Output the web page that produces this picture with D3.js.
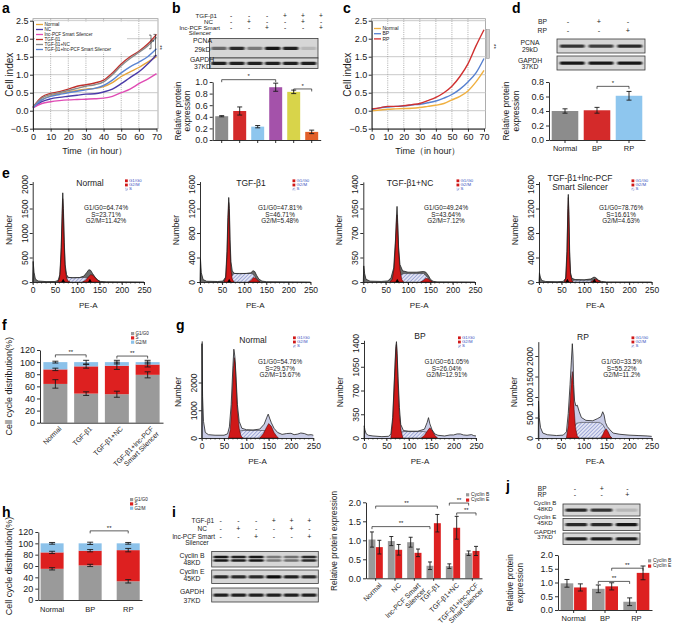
<!DOCTYPE html>
<html><head><meta charset="utf-8">
<script src="https://cdn.jsdelivr.net/npm/d3@7"></script>
<style>body{margin:0;background:#fff}svg{display:block}</style>
</head><body><svg id="chart" width="685" height="628"></svg>
<script>
// ---------------- DATA ----------------
// Panel a: real-time cell index
const aTime = [0,5,10,15,20,25,30,35,40,45,50,55,60,65,70];
const aNames = ["Normal","NC","lnc-PCF Smart Silencer","TGF-β1","TGF-β1+NC","TGF-β1+lnc-PCF Smart Silencer"];
const aNormal = [0.08,0.30,0.42,0.47,0.52,0.56,0.60,0.62,0.67,0.78,0.95,1.08,1.20,1.35,1.50];
const aNC     = [0.08,0.25,0.33,0.37,0.40,0.43,0.46,0.47,0.52,0.60,0.75,0.92,1.08,1.30,1.55];
const aLnc    = [0.08,0.20,0.25,0.28,0.30,0.31,0.32,0.33,0.35,0.40,0.50,0.60,0.75,0.88,1.03];
const aTGF    = [0.10,0.38,0.48,0.53,0.60,0.68,0.72,0.77,0.85,1.05,1.30,1.50,1.65,1.85,2.12];
const aTGFNC  = [0.10,0.35,0.45,0.50,0.56,0.62,0.68,0.72,0.80,1.00,1.25,1.45,1.62,1.80,2.05];
const aTGFLnc = [0.08,0.30,0.40,0.45,0.50,0.54,0.58,0.62,0.70,0.85,1.05,1.22,1.35,1.50,1.72];
// Panel c
const cNames = ["Normal","BP","RP"];
const cNormal = [0.00,0.02,0.04,0.05,0.06,0.07,0.09,0.12,0.15,0.20,0.30,0.40,0.55,0.80,1.12];
const cBP     = [0.03,0.08,0.10,0.12,0.13,0.16,0.18,0.22,0.27,0.35,0.45,0.60,0.80,1.05,1.45];
const cRP     = [0.05,0.08,0.12,0.12,0.14,0.17,0.20,0.28,0.37,0.50,0.68,0.95,1.30,1.80,2.25];
// Panel b
const bTGF = ["-","-","-","+","+","+"];
const bNC  = ["-","+","-","-","+","-"];
const bLnc = ["-","-","+","-","-","+"];
const bPCNA  = [0.55,0.85,0.45,0.95,0.90,0.15];
const bGAPDH = [0.90,0.90,0.90,0.90,0.90,0.90];
const bValues = [0.41,0.50,0.23,0.91,0.83,0.14];
const bErrors = [0.01,0.07,0.02,0.07,0.03,0.03];
// Panel d
const dBP = ["-","+","-"];
const dRP = ["-","-","+"];
const dPCNA  = [0.80,0.75,0.85];
const dGAPDH = [0.95,0.95,0.95];
const dCats = ["Normal","BP","RP"];
const dValues = [0.40,0.41,0.61];
const dErrors = [0.03,0.04,0.06];
// Panel e / g flow histograms: [PE-A, count]
const e1Env = [[0,0],[1,420],[3,200],[6,60],[12,20],[30,8],[50,10],[57,30],[61,150],[64,700],[66,1400],[67.5,1820],[69,1500],[71,800],[73,350],[76,150],[80,95],[90,85],[105,90],[115,120],[121,190],[126,250],[130,240],[134,180],[140,100],[146,40],[152,12],[165,5],[250,0]];
const e1G1 = [[56,0],[60,60],[63,400],[65.5,1100],[67.5,1700],[69,1400],[71,700],[73,280],[76,80],[80,15],[84,0]];
const e1G2 = [[112,0],[118,30],[124,90],[130,150],[135,140],[140,90],[146,35],[152,0]];
const e1S  = [[66,0],[72,60],[78,90],[120,90],[128,60],[134,20],[137,0]];
const e2Env = [[0,0],[1,380],[3,150],[7,40],[15,12],[40,8],[52,15],[58,80],[61,500],[63,1050],[65,1380],[66.5,1200],[68,700],[70,330],[73,180],[78,140],[90,135],[105,140],[115,150],[120,185],[124,170],[128,110],[133,50],[140,15],[150,5],[250,0]];
const e2G1 = [[54,0],[58,60],[61,400],[63,900],[65,1300],[66.5,1100],[68,550],[70,200],[73,50],[77,0]];
const e2G2 = [[110,0],[116,30],[121,75],[126,60],[131,25],[136,0]];
const e2S  = [[64,0],[70,80],[76,140],[118,140],[124,90],[130,30],[134,0]];
const e3Env = [[0,0],[1,230],[3,120],[6,40],[15,12],[40,8],[55,15],[62,60],[68,200],[72,600],[74,900],[75.5,1080],[77,850],[79,500],[82,250],[88,160],[100,140],[120,140],[135,150],[140,140],[146,90],[150,40],[156,10],[165,2],[250,0]];
const e3G1 = [[60,0],[65,40],[69,200],[72,550],[74,850],[75.5,960],[77,800],[79,450],[82,180],[86,40],[90,0]];
const e3G2 = [[128,0],[134,20],[140,55],[145,45],[150,20],[155,0]];
const e3S  = [[72,0],[80,90],[90,120],[135,120],[142,80],[150,20],[154,0]];
const e4Env = [[0,0],[1,150],[3,80],[6,25],[15,8],[40,5],[54,10],[59,60],[62,500],[64,1200],[65,1430],[66.5,1100],[68,500],[70,150],[73,60],[80,40],[100,35],[115,50],[122,80],[126,70],[132,30],[138,10],[150,2],[250,0]];
const e4G1 = [[56,0],[60,80],[62,450],[64,1150],[65,1380],[66.5,1000],[68,420],[70,120],[73,20],[76,0]];
const e4G2 = [[115,0],[120,25],[126,50],[131,30],[137,0]];
const e4S  = [[64,0],[70,25],[80,30],[118,30],[124,20],[130,5],[133,0]];
const g1Env = [[0,0],[0.5,3400],[2,1500],[4,600],[8,200],[15,120],[30,100],[50,100],[58,150],[62,400],[66,1200],[70,2600],[72,3200],[73,3100],[74.5,2900],[77,2200],[80,1200],[84,600],[90,350],[100,300],[115,290],[130,320],[140,500],[146,750],[149,860],[152,720],[156,550],[162,350],[170,200],[180,130],[190,160],[200,170],[207,120],[215,140],[222,180],[230,160],[238,110],[245,120],[250,100]];
const g1G1 = [[60,0],[64,300],[68,1300],[71,2500],[73,2900],[75,2700],[77,2000],[80,1000],[84,350],[88,80],[92,0]];
const g1G2 = [[130,0],[138,150],[145,380],[150,520],[156,420],[162,200],[168,60],[172,0]];
const g1S  = [[68,0],[80,220],[90,270],[140,270],[150,200],[160,90],[168,0]];
const g2Env = [[0,0],[0.5,180],[2,120],[5,60],[10,40],[20,30],[40,20],[55,25],[60,60],[64,300],[68,900],[71,1350],[72.5,1420],[74,1250],[76,900],[79,450],[82,200],[88,110],[100,100],[120,100],[135,130],[141,230],[144,300],[147,210],[152,120],[158,60],[165,40],[180,30],[192,45],[200,45],[208,60],[215,60],[222,45],[230,40],[240,50],[245,35],[250,30]];
const g2G1 = [[60,0],[64,250],[68,850],[71,1300],[72.5,1380],[74,1200],[76,800],[79,350],[83,100],[87,0]];
const g2G2 = [[128,0],[135,40],[142,110],[147,150],[152,110],[158,40],[164,0]];
const g2S  = [[68,0],[78,80],[88,95],[135,95],[145,70],[155,25],[160,0]];
const g3Env = [[0,0],[0.5,900],[2,500],[5,250],[10,120],[20,80],[40,60],[55,70],[62,150],[66,600],[70,1300],[73,1900],[75,2300],[76.5,2000],[78,1300],[80,900],[83,780],[86,800],[90,650],[95,500],[105,430],[120,420],[130,470],[138,520],[142,640],[145,560],[148,380],[152,280],[158,200],[165,120],[180,90],[200,70],[220,60],[240,50],[250,40]];
const g3G1 = [[62,0],[66,300],[70,900],[73,1400],[75,1620],[77,1300],[79,700],[82,250],[86,50],[90,0]];
const g3G2 = [[138,0],[142,80],[146,180],[150,220],[154,150],[158,50],[162,0]];
const g3S  = [[70,0],[76,200],[84,360],[95,380],[135,380],[142,330],[150,180],[158,40],[162,0]];
const eStats = [["G1/G0=64.74%","S=23.71%","G2/M=11.42%"],["G1/G0=47.81%","S=46.71%","G2/M=5.48%"],["G1/G0=49.24%","S=43.64%","G2/M=7.12%"],["G1/G0=78.76%","S=16.61%","G2/M=4.63%"]];
const gStats = [["G1/G0=54.76%","S=29.57%","G2/M=15.67%"],["G1/G0=61.05%","S=26.04%","G2/M=12.91%"],["G1/G0=33.5%","S=55.22%","G2/M=11.2%"]];
// Panel f / h stacked
const cycleKeys = ["G1/G0","S","G2/M"];
const fCats = ["Normal","TGF-β1","TGF-β1+NC","TGF-β1+lnc-PCF|Smart Silencer"];
const fG1 = [64,48,47,79], fS = [24,45,47,17], fG2 = [12,7,6,4];
const fErrG1 = [7,3,5,5], fErrS = [2,3,6,4], fErrG2 = [1.5,3,3,3];
const hCats = ["Normal","BP","RP"];
const hG1 = [55,61,33], hS = [29,26,55], hG2 = [16,13,12];
const hErrG1 = [2,2,3], hErrS = [2,2,3], hErrG2 = [1.5,2,1.5];
// Panel i / j
const iTGF = ["-","-","-","+","+","+"];
const iNC  = ["-","+","-","-","+","-"];
const iLnc = ["-","-","+","-","-","+"];
const iBlotB = [0.95,0.90,0.95,0.45,0.50,0.85];
const iBlotE = [0.85,0.85,0.85,1.00,0.90,0.85];
const iBlotG = [0.90,0.90,0.90,0.90,0.90,0.90];
const iCats = ["Normal","NC","lnc-PCF Smart|Silencer","TGF-β1","TGF-β1+NC","TGF-β1+lnc-PCF|Smart Silencer"];
const iCyclinB = [1.02,0.98,0.95,0.33,0.32,0.66], iCyclinBErr = [0.20,0.12,0.13,0.10,0.06,0.06];
const iCyclinE = [0.82,0.75,0.67,1.45,1.33,0.72], iCyclinEErr = [0.18,0.14,0.10,0.23,0.30,0.12];
const jBP = ["-","+","-"], jRP = ["-","-","+"];
const jBlotB = [0.85,0.80,0.15], jBlotE = [0.85,0.85,0.95], jBlotG = [0.90,0.90,0.90];
const jCats = ["Normal","BP","RP"];
const jCyclinB = [0.97,0.77,0.30], jCyclinBErr = [0.14,0.14,0.14];
const jCyclinE = [0.82,0.86,1.35], jCyclinEErr = [0.13,0.13,0.25];

// ---------------- DRAWING ----------------
const FONT = '"Liberation Sans", Arial, Helvetica, sans-serif';
const svg = d3.select("#chart").attr("font-family", FONT);
const defs = svg.append("defs");
const pat = defs.append("pattern").attr("id","hatch").attr("patternUnits","userSpaceOnUse")
  .attr("width",2.6).attr("height",2.6).attr("patternTransform","rotate(45)");
pat.append("rect").attr("width",2.6).attr("height",2.6).attr("fill","#e2e4f3");
pat.append("line").attr("x1",0).attr("y1",0).attr("x2",0).attr("y2",2.6).attr("stroke","#5566bb").attr("stroke-width",0.9);
defs.append("filter").attr("id","blur").attr("x","-30%").attr("y","-100%").attr("width","160%").attr("height","300%")
  .append("feGaussianBlur").attr("stdDeviation","1.1 0.7");

const INK = "#1a1a1a";
function txt(g,x,y,s,o={}){
  const t=g.append("text").attr("x",x).attr("y",y).text(s).attr("font-size",o.size||8)
    .attr("text-anchor",o.anchor||"start").attr("fill",o.fill||INK);
  if(o.weight) t.attr("font-weight",o.weight);
  if(o.rotate!==undefined) t.attr("transform",`rotate(${o.rotate},${x},${y})`);
  return t;
}
function letter(x,y,c){ txt(svg,x,y,c,{size:14,weight:"bold",fill:"#000"}); }
function styleAxis(ax,fs){
  ax.attr("font-family",FONT).attr("font-size",fs);
  ax.selectAll("path,line").attr("stroke",INK).attr("stroke-width",0.9);
  ax.selectAll("text").attr("fill",INK);
  return ax;
}
function errbar(g,cx,ya,yb,w){
  g.append("path").attr("d",`M${cx},${ya}V${yb}M${cx-w},${ya}H${cx+w}M${cx-w},${yb}H${cx+w}`)
    .attr("stroke",INK).attr("stroke-width",0.9).attr("fill","none");
}
function bracket(g,xa,xb,yv,tick,label,fs){
  g.append("path").attr("d",`M${xa},${yv+tick}V${yv}H${xb}V${yv+tick}`).attr("fill","none").attr("stroke",INK).attr("stroke-width",0.7);
  txt(g,(xa+xb)/2,yv-1.2,label,{size:fs||6,anchor:"middle"});
}
function multiLabel(g,x,y,label,fs,rot){
  const parts=label.split("|");
  const t=g.append("text").attr("font-size",fs).attr("text-anchor","end").attr("fill",INK)
    .attr("transform",`translate(${x},${y}) rotate(${rot})`);
  parts.forEach((p,k)=>t.append("tspan").attr("x",0).attr("dy",k?"1.05em":"0.7em").text(p));
}

// ----- line charts (a, c)
function lineChart(o){
  const g=svg.append("g");
  const x=d3.scaleLinear().domain([0,70]).range([o.x0,o.x1]);
  const y=d3.scaleLinear().domain([-0.5,2.5]).range([o.yb,o.yt]);
  const yv=d3.range(-0.5,2.51,0.5), xv=d3.range(0,71,10);
  g.append("rect").attr("x",o.x0).attr("y",o.yt-2).attr("width",o.x1-o.x0+1.5).attr("height",o.yb-o.yt+2)
    .attr("fill","#fff").attr("stroke","#999").attr("stroke-width",0.8);
  g.selectAll(".hg").data(yv.slice(1)).join("line").attr("x1",o.x0).attr("x2",o.x1+1.5)
    .attr("y1",d=>y(d)).attr("y2",d=>y(d)).attr("stroke","#c9c9c9").attr("stroke-width",1);
  g.selectAll(".vg").data(xv.slice(1,-1)).join("line").attr("x1",d=>x(d)).attr("x2",d=>x(d))
    .attr("y1",o.yt-2).attr("y2",o.yb).attr("stroke","#888").attr("stroke-width",0.7).attr("stroke-dasharray","1,1.2");
  g.append("rect").attr("x",o.leg.x).attr("y",o.leg.y).attr("width",o.leg.w).attr("height",o.leg.h).attr("fill","#fff");
  const line=d3.line().x((d,i)=>x(aTime[i])).y(d=>y(d)).curve(d3.curveMonotoneX);
  o.series.forEach((s,k)=>{
    g.append("path").attr("d",line(s.v)).attr("fill","none").attr("stroke",s.c).attr("stroke-width",1.4);
    const ly=o.leg.y+3+k*o.leg.dy;
    g.append("line").attr("x1",o.leg.x+1).attr("x2",o.leg.x+8).attr("y1",ly).attr("y2",ly).attr("stroke",s.c).attr("stroke-width",1.3);
    txt(g,o.leg.x+9.5,ly+1.6,s.n,{size:o.leg.fs});
  });
  styleAxis(g.append("g").attr("transform",`translate(${o.x0},0)`)
    .call(d3.axisLeft(y).tickValues(yv).tickFormat(d3.format(".1f")).tickSize(3).tickSizeOuter(0).tickPadding(1.5)),9);
  styleAxis(g.append("g").attr("transform",`translate(0,${o.yb})`)
    .call(d3.axisBottom(x).tickValues(xv).tickSize(3).tickSizeOuter(0).tickPadding(2)),9);
  txt(g,o.ytx,(o.yt+o.yb)/2,"Cell index",{size:10,anchor:"middle",rotate:-90});
  txt(g,(o.x0+o.x1)/2,153.5,"Time（in hour）",{size:9,anchor:"middle"});
  return {g,x,y};
}
letter(2,13,"a");
const A=lineChart({x0:33,x1:156.5,yb:128.7,yt:20.7,ytx:13,
  leg:{x:35,y:21.5,w:92,h:31,dy:5,fs:4.6},
  series:[{n:aNames[0],v:aNormal,c:"#e6a53a"},{n:aNames[1],v:aNC,c:"#4a3aa8"},{n:aNames[2],v:aLnc,c:"#e04cb4"},
          {n:aNames[3],v:aTGF,c:"#c0302c"},{n:aNames[4],v:aTGFNC,c:"#8a8a8a"},{n:aNames[5],v:aTGFLnc,c:"#5a84d2"}]});
A.g.append("path").attr("d",`M149,${A.y(2.1)}H151V${A.y(1.72)}H149`).attr("fill","none").attr("stroke",INK).attr("stroke-width",0.6);
txt(A.g,152,A.y(1.92)+2,"*",{size:6});
A.g.append("path").attr("d",`M153.5,${A.y(2.12)}H155.5V${A.y(1.52)}H153.5`).attr("fill","none").attr("stroke",INK).attr("stroke-width",0.6);
txt(A.g,157.5,A.y(1.82),"**",{size:6,rotate:90});

letter(343,13,"c");
const C=lineChart({x0:371.7,x1:484,yb:128.7,yt:20.7,ytx:351,
  leg:{x:373,y:25.5,w:28,h:16,dy:5.2,fs:5},
  series:[{n:cNames[0],v:cNormal,c:"#f0b040"},{n:cNames[1],v:cBP,c:"#5680d0"},{n:cNames[2],v:cRP,c:"#d03030"}]});
C.g.append("rect").attr("x",486.5).attr("y",C.y(2.25)).attr("width",3).attr("height",C.y(1.45)-C.y(2.25))
  .attr("fill","#cfcfcf").attr("stroke","#888").attr("stroke-width",0.5);
txt(C.g,492,C.y(1.85),"**",{size:6,rotate:90});

// ----- blots & headers
function blot(x0,x1,y0,y1,vals,double){
  const g=svg.append("g");
  g.append("rect").attr("x",x0).attr("y",y0).attr("width",x1-x0).attr("height",y1-y0)
    .attr("fill","#d6d6d6").attr("stroke","#3a3a3a").attr("stroke-width",0.8);
  const xb=d3.scaleBand().domain(d3.range(vals.length)).range([x0,x1]).paddingInner(0.14).paddingOuter(0.1);
  const ym=(y0+y1)/2;
  const offs=double?[-2,1.6]:[0];
  offs.forEach(off=>{
    g.selectAll(null).data(vals).join("rect").attr("x",(d,i)=>xb(i)).attr("y",ym+off-1.6)
      .attr("width",xb.bandwidth()).attr("height",double?2.6:3.4).attr("rx",1.3)
      .attr("fill","#111").attr("opacity",d=>d).attr("filter","url(#blur)");
  });
}
function header(rows,cols,fs){
  const g=svg.append("g");
  rows.forEach(r=>{
    if(r.label) txt(g,r.lx,r.y,r.label,{size:fs,anchor:r.anchor||"end"});
    if(r.signs) g.selectAll(null).data(r.signs).join("text").attr("x",(d,i)=>cols(i)).attr("y",r.y)
      .attr("text-anchor","middle").attr("font-size",fs+0.5).attr("fill",INK).text(d=>d==="-"?"-":"+");
  });
}
// ----- simple bar charts (b, d)
function barChart(o){
  const g=svg.append("g");
  const x=d3.scaleBand().domain(d3.range(o.vals.length)).range([o.x0,o.x1]).paddingInner(o.pi).paddingOuter(o.po);
  const y=d3.scaleLinear().domain([0,o.max]).range([o.yb,o.yt]);
  g.selectAll(null).data(o.vals).join("rect").attr("x",(d,i)=>x(i)).attr("width",x.bandwidth())
    .attr("y",d=>y(d)).attr("height",d=>o.yb-y(d)).attr("fill",(d,i)=>o.colors[i]);
  o.vals.forEach((v,i)=>errbar(g,x(i)+x.bandwidth()/2,y(v-o.errs[i]),y(v+o.errs[i]),2.5));
  styleAxis(g.append("g").attr("transform",`translate(${o.x0},0)`)
    .call(d3.axisLeft(y).tickValues(d3.range(0,o.max+1e-9,o.step)).tickFormat(d3.format(".1f")).tickSize(3).tickSizeOuter(0).tickPadding(2)),9);
  const xa=g.append("g").attr("transform",`translate(0,${o.yb})`)
    .call(d3.axisBottom(x).tickSize(3).tickSizeOuter(0).tickFormat((d,i)=>o.cats?o.cats[i]:""));
  styleAxis(xa,7.5);
  txt(g,o.tx,(o.yt+o.yb)/2,"Relative protein",{size:8.5,anchor:"middle",rotate:-90});
  txt(g,o.tx+9.5,(o.yt+o.yb)/2,"expression",{size:8.5,anchor:"middle",rotate:-90});
  return {g,x,y};
}
// panel b
letter(172,13,"b");
const bLane=d3.scaleBand().domain(d3.range(6)).range([222,330]);
const bCol=i=>bLane(i)+bLane.bandwidth()/2;
header([{label:"TGF-β1",lx:217,y:17.5,signs:bTGF},{label:"NC",lx:213,y:23.5,signs:bNC},
        {label:"lnc-PCF Smart",lx:220,y:29.5,signs:bLnc},{label:"Silencer",lx:200,y:35,anchor:"middle"}],bCol,6.2);
blot(209.5,318,38.5,58,bPCNA,false);
blot(209.5,318,58,68.5,bGAPDH,false);
txt(svg,202.5,43.3,"PCNA",{size:6.8,anchor:"middle"});
txt(svg,202.5,51.8,"29kD",{size:6.8,anchor:"middle"});
txt(svg,202,62,"GAPDH",{size:6.8,anchor:"middle"});
txt(svg,202.5,68.8,"37KD",{size:6.8,anchor:"middle"});
const B=barChart({x0:212.7,x1:320.7,yb:140,yt:82,max:1,step:0.2,pi:0.28,po:0.14,vals:bValues,errs:bErrors,tx:180.5,
  colors:["#8c8c8c","#d42a2a","#8ec6ee","#a452aa","#d8d44a","#e2602a"]});
const bc=i=>B.x(i)+B.x.bandwidth()/2;
bracket(B.g,bc(0),bc(3),B.y(1.04),2.5,"*",6);
bracket(B.g,bc(4),bc(5),B.y(0.88),2.5,"*",6);

// panel d
letter(512,13,"d");
const dCol=i=>[568,599,628][i];
header([{label:"BP",lx:547,y:23.5,signs:dBP},{label:"RP",lx:547,y:32.5,signs:dRP}],dCol,6.8);
blot(557,645,39,53,dPCNA,false);
blot(557,645,56,70,dGAPDH,false);
txt(svg,530,45,"PCNA",{size:6.8,anchor:"middle"});
txt(svg,530,52,"29kD",{size:6.8,anchor:"middle"});
txt(svg,530,62.5,"GAPDH",{size:6.8,anchor:"middle"});
txt(svg,530,69,"37KD",{size:6.8,anchor:"middle"});
const D=barChart({x0:549,x1:645,yb:140,yt:82,max:0.8,step:0.2,pi:0.17,po:0.085,vals:dValues,errs:dErrors,tx:509,cats:dCats,
  colors:["#8c8c8c","#d42a2a","#8ec6ee"]});
const dc=i=>D.x(i)+D.x.bandwidth()/2;
bracket(D.g,dc(1),dc(2),D.y(0.74),2.5,"*",6);

// ----- flow histograms (e, g)
function histo(o,h){
  const g=svg.append("g");
  const x=d3.scaleLinear().domain([0,250]).range([o.x0,o.x1]);
  const y=d3.scaleLinear().domain([0,o.ymax]).range([o.yb,o.yt]);
  const area=d3.area().x(p=>x(p[0])).y0(o.yb).y1(p=>y(p[1]));
  const line=d3.line().x(p=>x(p[0])).y(p=>y(p[1]));
  g.append("path").attr("d",area(h.env)).attr("fill",o.envFill);
  g.append("path").attr("d",area(h.s)).attr("fill","url(#hatch)").attr("stroke","#222").attr("stroke-width",0.5);
  [h.g1,h.g2].forEach(p=>g.append("path").attr("d",area(p)).attr("fill","#d01818").attr("stroke","#3a0000").attr("stroke-width",0.5));
  g.append("path").attr("d",line(h.env)).attr("fill","none").attr("stroke","#222").attr("stroke-width",0.8);
  g.selectAll(null).data(h.marks).join("path")
    .attr("d",m=>`M${x(m)-1.8},${o.yb}L${x(m)+1.8},${o.yb}L${x(m)},${o.yb-3.2}Z`).attr("fill","#000");
  const yax=g.append("g").attr("transform",`translate(${o.x0},0)`)
    .call(d3.axisLeft(y.copy().domain([0,o.axTop]).range([o.yb,y(o.axTop)]))
      .tickValues(d3.range(0,o.tickMax+1,o.step)).tickFormat(d3.format("d")).tickSize(3).tickSizeOuter(0));
  styleAxis(yax,8.5);
  yax.selectAll("text").attr("transform","rotate(-90)").attr("x",0).attr("y",-5).attr("dy","0").attr("text-anchor","middle");
  g.selectAll(null).data(d3.range(0,251,10)).join("line").attr("x1",d=>x(d)).attr("x2",d=>x(d))
    .attr("y1",o.yb).attr("y2",o.yb+1.6).attr("stroke",INK).attr("stroke-width",0.6);
  styleAxis(g.append("g").attr("transform",`translate(0,${o.yb})`)
    .call(d3.axisBottom(x).tickValues(d3.range(0,251,50)).tickSize(3).tickSizeOuter(0).tickPadding(2)),8.5);
  txt(g,(o.x0+o.x1)/2,o.yb+26,"PE-A",{size:8,anchor:"middle"});
  txt(g,o.x0-21,o.nly,"Number",{size:8.5,anchor:"middle",rotate:-90});
  o.title.forEach((t,k)=>txt(g,o.tx,o.ty+k*9,t,{size:8.5,anchor:"middle"}));
  cycleKeys.forEach((k,i)=>{
    const ly=o.ly+i*4.2;
    g.append("rect").attr("x",o.lx).attr("y",ly-2.6).attr("width",2.8).attr("height",2.8)
      .attr("fill",i<2?"#d01818":"url(#hatch)");
    txt(g,o.lx+4,ly,["G1/G0","G2/M","S"][i],{size:4.3,fill:"#3a50c0"});
  });
  o.stats.forEach((s,k)=>txt(g,o.sx,o.sy+k*6.6,s,{size:6.4,anchor:"middle"}));
}
letter(2,178,"e");
const eBase={yb:282,yt:184,ty:186,ly:182,sy:210,nly:230,envFill:"#6a6a6a"};
histo({...eBase,x0:32.7,x1:144,ymax:2000,axTop:2050,tickMax:2000,step:500,title:["Normal"],tx:90,lx:125,sx:106,stats:eStats[0]},
  {env:e1Env,g1:e1G1,g2:e1G2,s:e1S,marks:[68.5,128.5]});
histo({...eBase,x0:200,x1:310.5,ymax:1600,axTop:1640,tickMax:1600,step:400,title:["TGF-β1"],tx:251,lx:292.5,sx:280,stats:eStats[1]},
  {env:e2Env,g1:e2G1,g2:e2G2,s:e2S,marks:[66]});
histo({...eBase,x0:363.3,x1:475,ymax:1400,axTop:1430,tickMax:1400,step:350,title:["TGF-β1+NC"],tx:410,lx:456.5,sx:446,stats:eStats[2]},
  {env:e3Env,g1:e3G1,g2:e3G2,s:e3S,marks:[76]});
histo({...eBase,x0:539,x1:651.7,ymax:1600,axTop:1640,tickMax:1600,step:400,title:["TGF-β1+lnc-PCF","Smart Silencer"],tx:580,ty:181,lx:631.5,sx:621,stats:eStats[3]},
  {env:e4Env,g1:e4G1,g2:e4G2,s:e4S,marks:[63,123]});

letter(176,330,"g");
const gBase={yb:438,ly:339,sy:364,nly:392,envFill:"#c9cce6"};
histo({...gBase,x0:201.7,x1:313.3,ymax:2000,yt:382.5,axTop:3500,tickMax:2000,step:1000,title:["Normal"],tx:253,ty:343,lx:293,sx:280,stats:gStats[0]},
  {env:g1Env,g1:g1G1,g2:g1G2,s:g1S,marks:[]});
histo({...gBase,x0:364,x1:476,ymax:1400,yt:343,axTop:1440,tickMax:1400,step:350,title:["BP"],tx:420,ty:339,lx:458,sx:446.7,stats:gStats[1]},
  {env:g2Env,g1:g2G1,g2:g2G2,s:g2S,marks:[]});
histo({...gBase,x0:538.3,x1:651.7,ymax:2000,yt:356,axTop:2350,tickMax:2000,step:500,title:["RP"],tx:583,ty:340,lx:631.5,sx:621.7,stats:gStats[2]},
  {env:g3Env,g1:g3G1,g2:g3G2,s:g3S,marks:[]});

// ----- stacked (f, h)
const cycleColors=["#9a9a9a","#dd2020","#8cc2ea"];
function stacked(o){
  const g=svg.append("g");
  const x=d3.scaleBand().domain(d3.range(o.cats.length)).range([o.x0,o.x1]).paddingInner(o.pi).paddingOuter(o.po);
  const y=d3.scaleLinear().domain([0,120]).range([o.yb,o.yt]);
  const layers=[o.g1,o.s,o.g2];
  o.cats.forEach((c,i)=>{
    let base=0;
    layers.forEach((L,k)=>{
      g.append("rect").attr("x",x(i)).attr("width",x.bandwidth()).attr("y",y(base+L[i])).attr("height",y(base)-y(base+L[i])).attr("fill",cycleColors[k]);
      base+=L[i];
    });
  });
  o.cats.forEach((c,i)=>{
    let top=0;
    layers.forEach((L,k)=>{ top+=L[i]; const e=o.errs[k][i]; errbar(g,x(i)+x.bandwidth()/2,y(top-e),y(top+e),3); });
  });
  styleAxis(g.append("g").attr("transform",`translate(${o.x0},0)`)
    .call(d3.axisLeft(y).tickValues(d3.range(0,121,20)).tickSize(3).tickSizeOuter(0).tickPadding(2)),9);
  styleAxis(g.append("g").attr("transform",`translate(0,${o.yb})`)
    .call(d3.axisBottom(x).tickSize(0).tickSizeOuter(0).tickFormat("")),8);
  if(o.rot) o.cats.forEach((c,i)=>multiLabel(g,x(i)+x.bandwidth()/2+3,o.yb+3,c,7,-45));
  else o.cats.forEach((c,i)=>txt(g,x(i)+x.bandwidth()/2,o.yb+12,c,{size:7.5,anchor:"middle"}));
  txt(g,12,(o.yt+o.yb)/2,"Cell cycle distribution(%)",{size:9,anchor:"middle",rotate:-90});
  cycleKeys.forEach((k,i)=>{
    g.append("rect").attr("x",o.lx).attr("y",o.ly+i*4.3).attr("width",3.2).attr("height",3.2).attr("fill",cycleColors[i]);
    txt(g,o.lx+4.5,o.ly+i*4.3+3,k,{size:4.5});
  });
  return {g,x,y};
}
letter(2,330,"f");
const F=stacked({x0:40,x1:163,yb:422.7,yt:350,pi:0.22,po:0.11,cats:fCats,g1:fG1,s:fS,g2:fG2,errs:[fErrG1,fErrS,fErrG2],rot:true,lx:131,ly:332});
const fc=i=>F.x(i)+F.x.bandwidth()/2;
bracket(F.g,fc(0),fc(1),F.y(112),2.5,"**",6);
bracket(F.g,fc(2),fc(3),F.y(110),2.5,"**",6);

letter(2,517,"h");
const Hh=stacked({x0:38.3,x1:142,yb:600,yt:532,pi:0.395,po:0.06,cats:hCats,g1:hG1,s:hS,g2:hG2,errs:[hErrG1,hErrS,hErrG2],rot:false,lx:130,ly:498});
const hc=i=>Hh.x(i)+Hh.x.bandwidth()/2;
bracket(Hh.g,hc(1),hc(2),Hh.y(122),2.5,"**",6);

// ----- grouped (i, j)
function grouped(o){
  const g=svg.append("g");
  const x=d3.scaleBand().domain(d3.range(o.cats.length)).range([o.x0,o.x1]).paddingInner(o.pi).paddingOuter(o.po);
  const xs=d3.scaleBand().domain([0,1]).range([0,x.bandwidth()]).paddingInner(0.06);
  const y=d3.scaleLinear().domain([0,2]).range([o.yb,o.yt]);
  const series=[{v:o.B,e:o.Be,c:"#9a9a9a"},{v:o.E,e:o.Ee,c:"#dd2020"}];
  series.forEach((s,k)=>{
    g.selectAll(null).data(s.v).join("rect").attr("x",(d,i)=>x(i)+xs(k)).attr("width",xs.bandwidth())
      .attr("y",d=>y(d)).attr("height",d=>o.yb-y(d)).attr("fill",s.c);
    s.v.forEach((v,i)=>errbar(g,x(i)+xs(k)+xs.bandwidth()/2,y(v-s.e[i]),y(v+s.e[i]),o.cap));
  });
  styleAxis(g.append("g").attr("transform",`translate(${o.x0},0)`)
    .call(d3.axisLeft(y).tickValues(d3.range(0,2.01,0.5)).tickFormat(d3.format(".1f")).tickSize(3).tickSizeOuter(0).tickPadding(2)),9);
  styleAxis(g.append("g").attr("transform",`translate(0,${o.yb})`)
    .call(d3.axisBottom(x).tickSize(o.rot?2.5:3).tickSizeOuter(0).tickFormat(o.rot?"":(d,i)=>o.cats[i])),7.5);
  if(o.rot) o.cats.forEach((c,i)=>multiLabel(g,x(i)+x.bandwidth()/2+3,o.yb+4,c,7,-45));
  ["Cyclin B","Cyclin E"].forEach((n,k)=>{
    g.append("rect").attr("x",o.lx).attr("y",o.ly+k*5.3-2.8).attr("width",3.2).attr("height",3.2).attr("fill",series[k].c);
    txt(g,o.lx+5,o.ly+k*5.3,n,{size:5});
  });
  const px=(i,k)=>k<0?x(i)+x.bandwidth()/2:x(i)+xs(k)+xs.bandwidth()/2;
  return {g,x,y,px};
}
letter(172,517,"i");
const iLane=d3.scaleBand().domain(d3.range(6)).range([211.7,318.3]);
const iCol=i=>iLane(i)+iLane.bandwidth()/2;
header([{label:"TGF-β1",lx:214,y:523,signs:iTGF},{label:"NC",lx:207,y:530.5,signs:iNC},
        {label:"lnc-PCF Smart",lx:215,y:538.5,signs:iLnc},{label:"Silencer",lx:197,y:544.5,anchor:"middle"}],iCol,6.5);
blot(211.7,318.3,551.5,567,iBlotB,true);
blot(211.7,318.3,570,583.5,iBlotE,false);
blot(211.7,318.3,588,602,iBlotG,false);
[["Cyclin B",557.5],["48KD",564.5],["Cyclin E",574],["45KD",581],["GAPDH",594],["37KD",602.5]].forEach(d=>txt(svg,192,d[1],d[0],{size:6.8,anchor:"middle"}));
txt(svg,337,541,"Relative protein expression",{size:8.3,anchor:"middle",rotate:-90});
const I=grouped({x0:366,x1:482,yb:578.3,yt:502.3,pi:0.26,po:0.13,cats:iCats,B:iCyclinB,Be:iCyclinBErr,E:iCyclinE,Ee:iCyclinEErr,rot:true,cap:2,lx:466,ly:496});
bracket(I.g,I.px(0,-1),I.px(3,1),I.y(1.9),2.5,"**",6);
bracket(I.g,I.px(0,0),I.px(3,0),I.y(1.36),2.5,"**",6);
bracket(I.g,I.px(4,0),I.px(5,0),I.y(1.98),2.5,"**",6);
bracket(I.g,I.px(4,1),I.px(5,1),I.y(1.72),2.5,"**",6);

letter(506,491,"j");
const jCol=i=>[575,601.7,627.3][i];
header([{label:"BP",lx:546.5,y:491,signs:jBP},{label:"RP",lx:546.5,y:496.5,signs:jRP}],jCol,6.5);
blot(563,640,504,516,jBlotB,false);
blot(563,640,518.5,530.5,jBlotE,false);
blot(563,640,533,544.5,jBlotG,false);
[["Cyclin B",505],["48KD",510.5],["Cyclin E",519],["45KD",524.5],["GAPDH",533.5],["37KD",539]].forEach(d=>txt(svg,545,d[1],d[0],{size:6.2,anchor:"middle"}));
txt(svg,513,583,"Relative protein",{size:8.3,anchor:"middle",rotate:-90});
txt(svg,522.5,583,"expression",{size:8.3,anchor:"middle",rotate:-90});
const J=grouped({x0:558,x1:652,yb:610,yt:555,pi:0.17,po:0.085,cats:jCats,B:jCyclinB,Be:jCyclinBErr,E:jCyclinE,Ee:jCyclinEErr,rot:false,cap:2.5,lx:648,ly:562});
bracket(J.g,J.px(1,1),J.px(2,1),J.y(1.52),2.5,"**",6);
bracket(J.g,J.px(1,0),J.px(2,0),J.y(1.04),2.5,"**",6);
</script></body></html>
